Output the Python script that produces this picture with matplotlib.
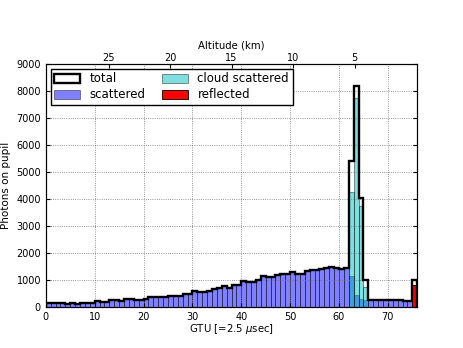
import numpy as np
import matplotlib
matplotlib.use('Agg')
import matplotlib.pyplot as plt

plt.rcParams['mathtext.fontset'] = 'dejavusans'
plt.rcParams['xtick.direction'] = 'in'
plt.rcParams['ytick.direction'] = 'in'
plt.rcParams['ytick.right'] = True

# Photons per GTU bin (bins 0..75)
scattered = [130, 130, 130, 155, 120, 130, 120, 130, 130, 130,
             220, 190, 190, 240, 240, 220, 280, 280, 265, 265,
             300, 350, 350, 350, 350, 420, 400, 400, 480, 480,
             580, 570, 570, 580, 660, 720, 770, 700, 820, 820,
             960, 930, 930, 1000, 1130, 1100, 1100, 1180, 1230, 1230,
             1280, 1230, 1230, 1330, 1360, 1360, 1390, 1430, 1480, 1450,
             1390, 1440, 1150, 440, 310, 240, 240, 260, 240, 250,
             250, 260, 250, 230, 230, 200]
cloud_scattered = [0] * 62 + [4270, 7730, 3730, 750] + [0] * 10
reflected = [0] * 75 + [800]

alt_ticks = [25, 20, 15, 10, 5]
gtu_ground = 75.8     # GTU where altitude reaches 0
km_per_gtu = 0.397

scattered = np.array(scattered)
cloud_scattered = np.array(cloud_scattered)
reflected = np.array(reflected)
total = scattered + cloud_scattered + reflected
edges = np.arange(len(total) + 1)
gtu = edges[:-1]

fig = plt.figure(figsize=(4.63, 3.48), dpi=100)
fig.subplots_adjust(left=0.099, right=0.901, bottom=0.118, top=0.816)
ax = fig.add_subplot(111)

h_sc = ax.bar(gtu, scattered, width=1, align='edge', color='b', alpha=0.5,
              edgecolor='k', linewidth=0.6)
h_cl = ax.bar(gtu, cloud_scattered, width=1, align='edge', color='c', alpha=0.5,
              edgecolor='k', linewidth=0.6)
h_re = ax.bar(gtu, reflected, width=1, align='edge', color='r',
              edgecolor='k', linewidth=0.6)
_, _, h_tot = ax.hist(gtu, bins=edges, weights=total, histtype='step',
                      color='k', linewidth=1.7)

ax.set_xlim(0, len(total))
ax.set_ylim(0, 9000)
ax.set_xticks(range(0, 71, 10))
ax.set_yticks(range(0, 9001, 1000))
ax.tick_params(labelsize=7, length=3)
ax.grid(True, linestyle=':', color='0.45', linewidth=0.6)
ax.set_xlabel(r'GTU [=2.5 $\mu$sec]', fontsize=7.3, labelpad=0)
ax.set_ylabel('Photons on pupil', fontsize=7.5)

ax.legend([h_tot[0], h_sc, h_cl, h_re],
          ['total', 'scattered', 'cloud scattered', 'reflected'],
          loc='upper left', ncol=2, fontsize=8.5, fancybox=False,
          edgecolor='k', framealpha=1, handlelength=2.2, handleheight=0.8,
          borderaxespad=0.4, columnspacing=1.4, handletextpad=0.8,
          labelspacing=0.25, borderpad=0.3)

ax2 = ax.twiny()
ax2.set_xlim(ax.get_xlim())
ax2.set_xticks([gtu_ground - a / km_per_gtu for a in alt_ticks])
ax2.set_xticklabels([str(a) for a in alt_ticks])
ax2.tick_params(labelsize=7, length=3, direction='in', pad=1)
ax2.set_xlabel('Altitude (km)', fontsize=7.3, labelpad=3)

fig.savefig('out.png', dpi=100)
